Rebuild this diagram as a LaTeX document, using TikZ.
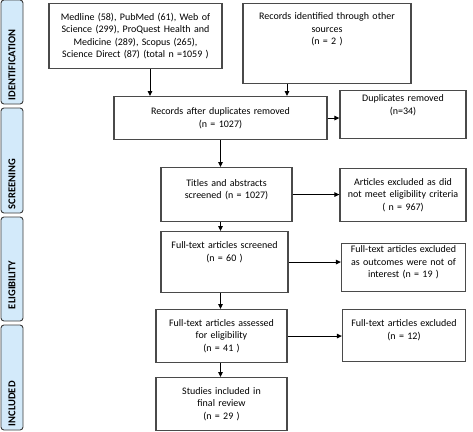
\documentclass[tikz,border=0pt]{standalone}
\usepackage{fontspec}
\setmainfont{Carlito}
\usetikzlibrary{arrows.meta}
\definecolor{phasefill}{HTML}{D3EAFA}
\definecolor{edgegray}{HTML}{4A4A4A}

\begin{document}
\begin{tikzpicture}[x=1pt,y=-1pt,
  box/.style={draw=edgegray,line width=1.1pt,align=center,inner xsep=3pt,inner ysep=0pt,anchor=north,
    font=\fontsize{10}{12.5}\selectfont},
  phase/.style={draw=edgegray!80!black,line width=0.9pt,fill=phasefill,rounded corners=3pt,rotate=90,
    minimum height=22pt,inner xsep=4pt,inner ysep=0pt,align=left,font=\bfseries\fontsize{10.5}{12}\selectfont},
  arr/.style={-{Triangle[length=5pt,width=4.5pt]},line width=1pt}]
  \useasboundingbox (0,0) rectangle (473,431);

  % phase bars on the left
  \node[phase,text width=96pt] (ident) at (12,52) {IDENTIFICATION};
  \node[phase,text width=97pt] (screen) at (12,160.5) {SCREENING};
  \node[phase,text width=96pt] (elig) at (12,269) {\hspace*{8pt}ELIGIBILITY};
  \node[phase,text width=97pt] (incl) at (12,377.5) {INCLUDED};

  % main column
  \node[box,text width=167pt,minimum height=65pt] (src1) at (135.5,3)
    {Medline (58), PubMed (61), Web of\\Science (299), ProQuest Health and\\Medicine (289), Scopus (265),\\Science Direct (87) (total n =1059 )};
  \node[box,text width=162pt,text height=16pt,text depth=64pt] (src2) at (327,3)
    {Records identified through other\\sources\\(n = 2 )};
  \node[box,text width=207pt,minimum height=43pt] (rec) at (220.5,96)
    {Records after duplicates removed\\(n = 1027)};
  \node[box,text width=125pt,text height=18.5pt,text depth=35.5pt] (titles) at (226.5,167)
    {Titles and abstracts\\screened (n =  1027)};
  \node[box,text width=121pt,text height=17pt,text depth=44pt] (full) at (224.5,231)
    {Full-text articles screened\\(n = 60 )};
  \node[box,text width=125pt,minimum height=53pt] (assess) at (221.5,309)
    {Full-text articles assessed\\for eligibility\\(n = 41 )};
  \node[box,text width=125pt,minimum height=53pt] (final) at (221.5,377)
    {Studies included in\\final review\\(n = 29 )};

  % exclusions on the right
  \node[box,text width=120pt,text height=11pt,text depth=37pt] (dup) at (403,90)
    {Duplicates removed\\(n=34)};
  \node[box,text width=120pt,minimum height=53pt] (excl1) at (403,168)
    {Articles excluded as did\\not meet eligibility criteria\\( n =  967)};
  \node[box,text width=118pt,text height=9pt,text depth=39pt] (excl2) at (403.5,243)
    {Full-text articles excluded\\as outcomes were not of\\interest (n = 19 )};
  \node[box,text width=117pt,text height=17pt,text depth=35pt] (excl3) at (404,309)
    {Full-text articles excluded\\(n = 12)};

  \draw[arr] ([xshift=14.5pt]src1.south) -- ([xshift=14.5pt]src1.south |- rec.north);
  \draw[arr] ([xshift=-40pt]src2.south) -- ([xshift=-40pt]src2.south |- rec.north);
  \draw[arr] (rec.east) -- (rec.east -| dup.west);
  \draw[arr] (rec.south) -- (rec.south |- titles.north);
  \draw[arr] (titles.east) -- (titles.east -| excl1.west);
  \draw[arr] (rec.south |- titles.south) -- (rec.south |- full.north);
  \draw[arr] (full.east) -- (full.east -| excl2.west);
  \draw[arr] (rec.south |- full.south) -- (rec.south |- assess.north);
  \draw[arr] (assess.east) -- (assess.east -| excl3.west);
  \draw[arr] (rec.south |- assess.south) -- (rec.south |- final.north);
\end{tikzpicture}
\end{document}
